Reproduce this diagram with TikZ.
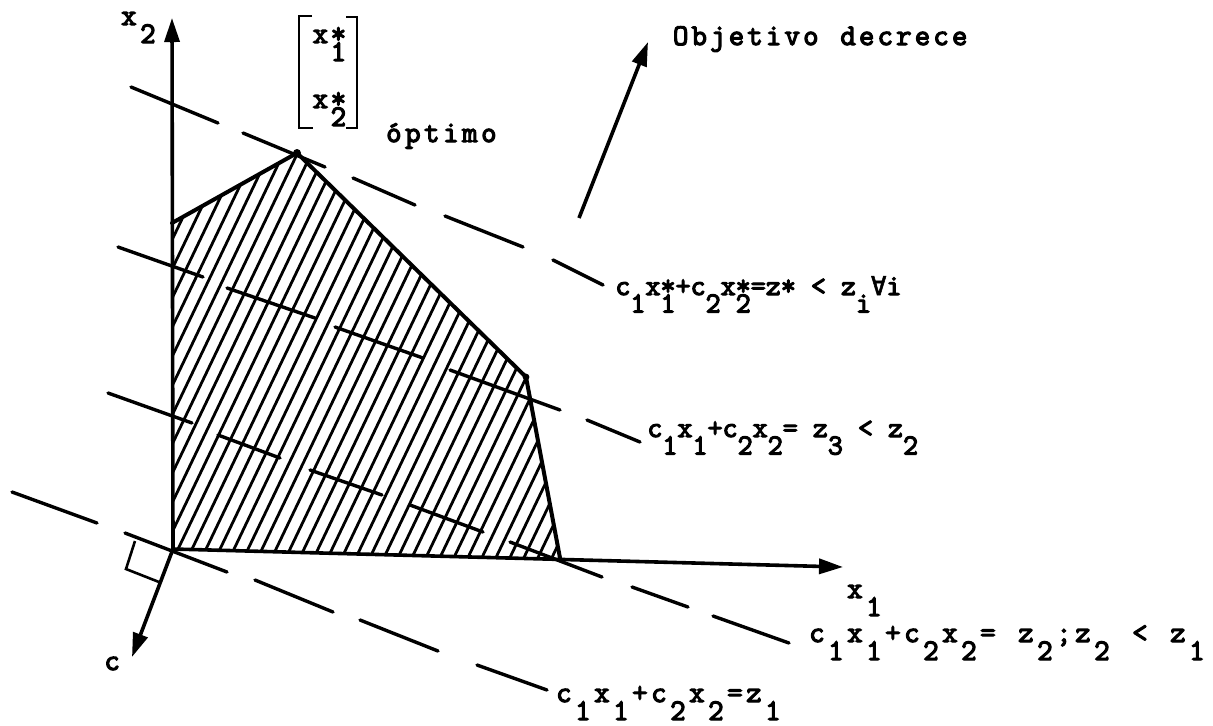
\documentclass[tikz,border=0pt]{standalone}
\usepackage{fontspec}
\newfontfamily\tw{Latin Modern Mono}[FakeBold=4]
\newfontfamily\fafont{DejaVu Sans Mono}[FakeBold=2]
\usetikzlibrary{arrows.meta}
\newcommand\lo[1]{\raisebox{-0.6em}{#1}}
\newcommand\los[1]{\rlap{*}\raisebox{-0.6em}{#1}}
\newcommand\fa{\makebox[0.525em]{{\fafont\fontsize{13}{15}\selectfont ∀}}}
\makeatletter
\newcommand\cells[2]{\@tfor\cl@tok:=#2\do{\makebox[#1]{\cl@tok}}}
\makeatother
\begin{document}
\begin{tikzpicture}[x=0.5pt,y=-0.5pt,
  ax/.style={line width=1.8pt,-{Triangle[length=12pt,width=7.5pt]}},
  edge/.style={line width=2pt,line join=round,line cap=round},
  hatch/.style={line width=1.4pt},
  dsh/.style={line width=1.7pt,line cap=round},
  brk/.style={line width=1.3pt},
  lbl/.style={inner sep=0pt,anchor=base west,font={\tw\fontsize{15}{17}\selectfont}},
  slbl/.style={inner sep=0pt,anchor=base west,font={\tw\fontsize{14.6}{16}\selectfont}},
]
\useasboundingbox (0,0) rectangle (1213,725);
% key points
\coordinate (O) at (173,549);
\coordinate (A) at (172,223);
\coordinate (B) at (297,153);
\coordinate (C) at (526,377);
\coordinate (D) at (560,558);
\coordinate (X1) at (843,567);
\coordinate (X2) at (172,18);
\coordinate (Cv) at (132,657);
\coordinate (ObS) at (579,218);
\coordinate (ObE) at (648,42);
% hatching
\begin{scope}
  \clip (O) -- (A) -- (B) -- (C) -- (D) -- cycle;
  \foreach \i in {0,...,48} {
    \draw[hatch] ({-70+14*\i},570) -- ++(225,-470);
  }
\end{scope}
% iso-lines (dashed by hand)
\foreach \xa/\ya/\xb/\yb in {131/87/218/123, 243/133/325/167, 353/178/415/205, 445/216/523/247, 553/260/603/285,
  118/247/203/277, 227/288/315/318, 335/327/423/358, 450/370/560/410, 587/420/640/442,
  108/393/192/423, 218/435/280/458, 310/470/382/495, 410/505/483/532, 510/542/602/577, 632/587/688/607, 713/616/789/643,
  12/492/97/523, 125/533/227/572, 255/580/333/612, 360/620/438/651, 477/665/547/690}
  {\draw[dsh] (\xa,\ya) -- (\xb,\yb);}
% polygon edges
\draw[edge] (A) -- (B) -- (C) -- (D);
\fill (B) circle (2pt);
\fill (C) circle (1.7pt);
% axes
\draw[ax] (O) -- (X2);
\draw[ax] (O) -- (X1);
\draw[ax] (O) -- (Cv);
\draw[ax] (ObS) -- (ObE);
% right angle mark
\draw[brk] (135,541) -- (126,569) -- (159,582);
% bracket vector
\draw[brk] (312,16) -- (299,16) -- (299,128) -- (313,128);
\draw[brk] (346,17) -- (357,17) -- (357,128) -- (346,128);
\node[lbl] (v1) at (311,43) {\cells{9pt}{x{\los1}}};
\node[lbl] (v2) at (311,108) {\cells{9pt}{x{\los2}}};
\node[lbl] (opt) at (384,142) {\cells{9.5pt}{óptimo}};
% axis labels
\node[lbl] (lx2) at (119,25) {\cells{9.5pt}{x{\lo2}}};
\node[lbl] (lx1) at (845,598) {\cells{9.5pt}{x{\lo1}}};
\node[lbl] (lc) at (104,670) {c};
\node[lbl] (obj) at (671,45) {\cells{9.3pt}{Objetivo{\ }decrece}};
% line labels
\node[slbl] (zs) at (615,295) {c\lo{1}x\los{1}+c\lo{2}x\los{2}=z* < z\lo{i}\fa i};
\node[slbl] (z3) at (647,437) {c\lo{1}x\lo{1}+c\lo{2}x\lo{2}= z\lo{3} < z\lo{2}};
\node[lbl] (z2) at (807,642) {\cells{9.5pt}{c{\lo1}x{\lo1}+c{\lo2}x{\lo2}={\ }z{\lo2};z{\lo2}{\ }<{\ }z{\lo1}}};
\node[lbl] (z1) at (554,702) {\cells{9.5pt}{c{\lo1}x{\lo1}+c{\lo2}x{\lo2}=z{\lo1}}};
\end{tikzpicture}
\end{document}
